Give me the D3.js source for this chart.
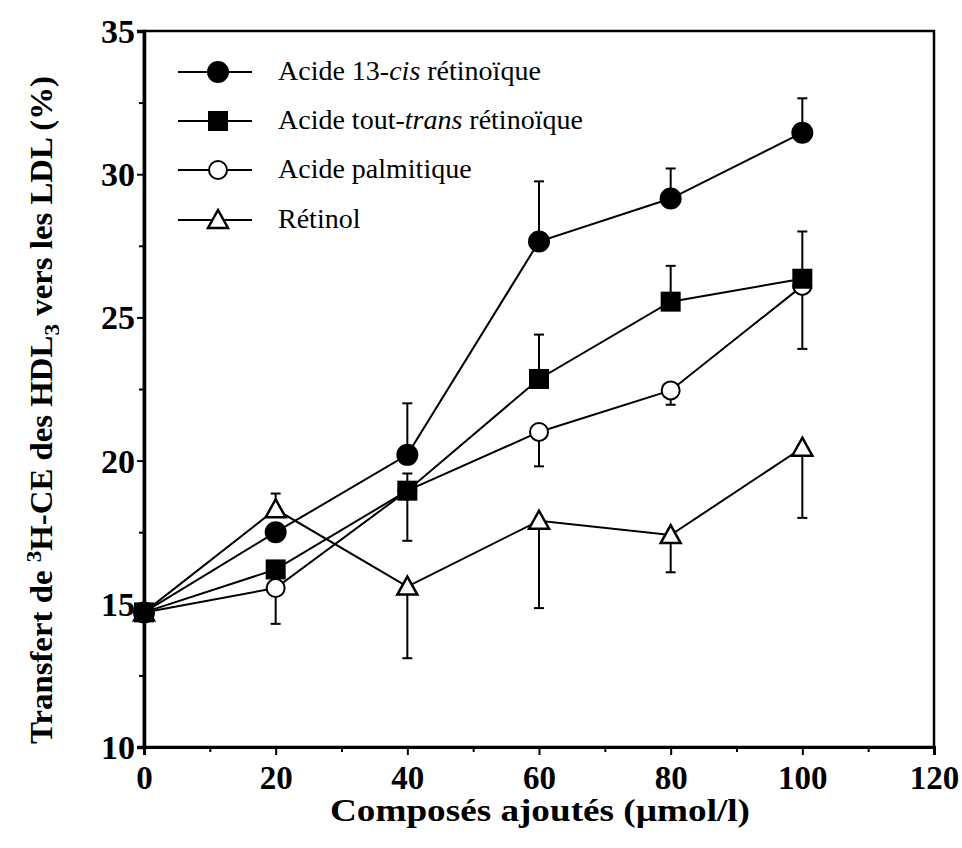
<!DOCTYPE html>
<html><head><meta charset="utf-8">
<script src="https://cdn.jsdelivr.net/npm/d3@7"></script>
<style>body{margin:0;background:#fff}svg{display:block}svg text{font-family:"Liberation Serif","Times New Roman",serif !important}</style>
</head><body>
<svg id="c" width="962" height="848" font-family="Liberation Serif"></svg>
<script>
const xValues = [0, 20, 40, 60, 80, 100];
const cisValues = [14.7, 17.5, 20.2, 27.65, 29.15, 31.45];
const cisErr = [0, 0, 1.8, 2.1, 1.05, 1.2];
const transValues = [14.7, 16.2, 18.95, 22.85, 25.55, 26.35];
const transErr = [0, 0, 0.6, 1.55, 1.25, 1.65];
const palmValues = [14.7, 15.55, 18.95, 21.0, 22.45, 26.1];
const palmErr = [0, -1.25, -1.75, -1.2, -0.5, -2.2];
const retinolValues = [14.7, 18.3, 15.6, 17.9, 17.4, 20.45];
const retinolErr = [0, 0.55, -2.5, -3.05, -1.3, -2.45];
const xTicks = [0, 20, 40, 60, 80, 100, 120];
const yTicks = [10, 15, 20, 25, 30, 35];

const series = [
  {name: ["Acide 13-", "cis", " rétinoïque"], values: cisValues, err: cisErr, shape: "circle", fill: "#000"},
  {name: ["Acide tout-", "trans", " rétinoïque"], values: transValues, err: transErr, shape: "square", fill: "#000"},
  {name: ["Acide palmitique"], values: palmValues, err: palmErr, shape: "circle", fill: "#fff"},
  {name: ["Rétinol"], values: retinolValues, err: retinolErr, shape: "triangle", fill: "#fff"}
];

const svg = d3.select("#c");
const L = 144, R = 934, T = 31, B = 747;
const x = d3.scaleLinear().domain([0, 120]).range([L, R]);
const y = d3.scaleLinear().domain([10, 35]).range([B, T]);

svg.append("rect").attr("x", L).attr("y", T).attr("width", R - L).attr("height", B - T)
  .attr("fill", "none").attr("stroke", "#000").attr("stroke-width", 2.5);

const xAxis = d3.axisBottom(x).tickValues(xTicks).tickSize(8).tickFormat(d3.format("d"));
const gx = svg.append("g").attr("transform", `translate(0,${B})`).call(xAxis).attr("font-family", null);
gx.select(".domain").attr("stroke-width", 3);
gx.selectAll(".tick line").attr("stroke-width", 2);
gx.selectAll(".tick text").attr("font-size", 33).attr("font-weight", "bold")
  .attr("y", 42).attr("dy", 0);
svg.append("g").attr("transform", `translate(0,${B})`)
  .call(d3.axisBottom(x).tickValues(d3.range(10, 120, 20)).tickSize(5).tickFormat(""))
  .call(g => { g.select(".domain").remove(); g.selectAll("line").attr("stroke-width", 2); });

const yAxis = d3.axisLeft(y).tickValues(yTicks).tickSize(7).tickFormat(d3.format("d"));
const gy = svg.append("g").attr("transform", `translate(${L},0)`).call(yAxis).attr("font-family", null);
gy.select(".domain").attr("stroke-width", 3.5);
gy.selectAll(".tick line").attr("stroke-width", 2);
gy.selectAll(".tick text").attr("font-size", 34).attr("font-weight", "bold").attr("x", -9).attr("dy", "0.34em");
svg.append("g").attr("transform", `translate(${L},0)`)
  .call(d3.axisLeft(y).tickValues(d3.range(12.5, 35, 5)).tickSize(5).tickFormat(""))
  .call(g => { g.select(".domain").remove(); g.selectAll("line").attr("stroke-width", 2); });

svg.append("text").attr("x", 540).attr("y", 821).attr("text-anchor", "middle")
  .attr("font-size", 31).attr("font-weight", "bold")
  .attr("textLength", 420).attr("lengthAdjust", "spacingAndGlyphs")
  .text("Composés ajoutés (µmol/l)");
const yt = svg.append("text").attr("transform", "translate(52,410) rotate(-90)").attr("text-anchor", "middle")
  .attr("font-size", 31).attr("font-weight", "bold")
  .attr("textLength", 668).attr("lengthAdjust", "spacingAndGlyphs");
yt.append("tspan").text("Transfert de ");
yt.append("tspan").attr("dy", -11).attr("font-size", 22).text("3");
yt.append("tspan").attr("dy", 11).text("H-CE des HDL");
yt.append("tspan").attr("dy", 7).attr("font-size", 22).text("3");
yt.append("tspan").attr("dy", -7).text(" vers les LDL (%)");

function drawMarker(g, shape, cx, cy, fill) {
  if (shape === "circle") {
    g.append("circle").attr("cx", cx).attr("cy", cy).attr("r", fill === "#000" ? 10 : 9)
      .attr("fill", fill).attr("stroke", "#000").attr("stroke-width", 2);
  } else if (shape === "square") {
    g.append("rect").attr("x", cx - 10).attr("y", cy - 10).attr("width", 20).attr("height", 20)
      .attr("fill", fill);
  } else {
    const s = 10;
    g.append("path").attr("d", `M${cx},${cy - s}L${cx + s},${cy + s * 0.8}L${cx - s},${cy + s * 0.8}Z`)
      .attr("fill", fill).attr("stroke", "#000").attr("stroke-width", 2.5).attr("stroke-linejoin", "miter");
  }
}

const line = d3.line().x((d, i) => x(xValues[i])).y(d => y(d));
const plot = svg.append("g");
series.forEach(s => {
  plot.append("path").attr("d", line(s.values)).attr("fill", "none").attr("stroke", "#000").attr("stroke-width", 2);
});
series.forEach(s => {
  s.values.forEach((v, i) => {
    const e = s.err[i];
    if (!e) return;
    const px = x(xValues[i]);
    const y2 = y(v + e);
    plot.append("line").attr("x1", px).attr("x2", px).attr("y1", y(v)).attr("y2", y2)
      .attr("stroke", "#000").attr("stroke-width", 2);
    plot.append("line").attr("x1", px - 5).attr("x2", px + 5).attr("y1", y2).attr("y2", y2)
      .attr("stroke", "#000").attr("stroke-width", 2);
  });
});
[...series].reverse().forEach(s => {
  s.values.forEach((v, i) => drawMarker(plot, s.shape, x(xValues[i]), y(v), s.fill));
});

const leg = svg.append("g");
const legY = [72, 121, 170, 220];
series.forEach((s, k) => {
  const ly = legY[k];
  leg.append("line").attr("x1", 178).attr("x2", 252).attr("y1", ly).attr("y2", ly)
    .attr("stroke", "#000").attr("stroke-width", 2);
  drawMarker(leg, s.shape, 218, ly, s.fill);
  const t = leg.append("text").attr("x", 278).attr("y", ly + 8).attr("font-size", 28);
  s.name.forEach((part, j) => {
    t.append("tspan").attr("font-style", j === 1 ? "italic" : "normal").text(part);
  });
});
</script>
</body></html>
